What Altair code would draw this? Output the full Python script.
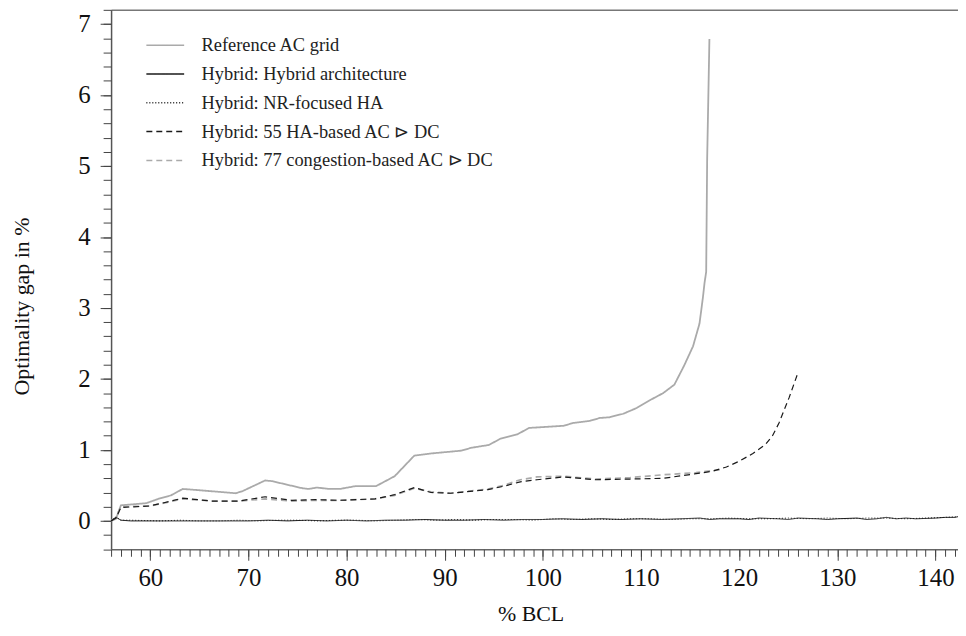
import altair as alt
import pandas as pd

series_names = [
    "Reference AC grid",
    "Hybrid: Hybrid architecture",
    "Hybrid: NR-focused HA",
    "Hybrid: 55 HA-based AC ⊳ DC",
    "Hybrid: 77 congestion-based AC ⊳ DC",
]
series_colors = ["#aaaaaa", "#1a1a1a", "#1a1a1a", "#1a1a1a", "#aaaaaa"]
series_dashes = [[1, 0], [1, 0], [1, 2], [6, 4], [6, 4]]

ref_x = [56, 56.5, 57, 59.6, 60.8, 62.1, 63.3, 64.3, 68.7, 69.4, 71.7, 72.4, 75.5, 76.1, 77, 78.2,
         79.3, 80.9, 83.0, 84.9, 86.9, 88.6, 91.7, 92.7, 94.5, 95.7, 97.4, 98.6, 102.1, 103.1,
         104.8, 105.8, 106.8, 108.2, 109.55, 110.9, 112.25, 113.4, 114.4, 115.3, 115.96, 116.3,
         116.47, 116.64, 116.74, 116.97]
ref_y = [0.0, 0.03, 0.22, 0.25, 0.31, 0.36, 0.45, 0.44, 0.39, 0.42, 0.57, 0.56, 0.46, 0.45, 0.47, 0.45,
         0.45, 0.49, 0.49, 0.63, 0.92, 0.95, 0.99, 1.03, 1.07, 1.16, 1.22, 1.31, 1.34, 1.38,
         1.41, 1.45, 1.46, 1.51, 1.59, 1.70, 1.80, 1.92, 2.19, 2.46, 2.78, 3.14,
         3.35, 3.51, 5.1, 6.79]

hyb_x = [56, 56.5, 57, 58, 60, 62, 64, 66, 68, 70, 72, 74, 76, 78, 80, 82, 84, 86, 88, 90, 92, 94,
         96, 98, 100, 102, 104, 106, 108, 110, 112, 114, 116, 117, 118, 120, 121, 122, 124, 125,
         126, 128, 129, 130, 132, 133, 134, 135, 136, 137, 138, 140, 141, 142, 142.3]
hyb_y = [0.0, 0.05, 0.01, 0.0, 0.0, 0.0, 0.0, 0.0, 0.0, 0.0, 0.01, 0.0, 0.01, 0.0, 0.01, 0.0, 0.01,
         0.01, 0.02, 0.01, 0.01, 0.02, 0.01, 0.02, 0.02, 0.03, 0.02, 0.03, 0.02, 0.03, 0.02, 0.03,
         0.04, 0.02, 0.03, 0.03, 0.02, 0.04, 0.03, 0.02, 0.04, 0.03, 0.02, 0.03, 0.04, 0.02, 0.03,
         0.05, 0.03, 0.04, 0.03, 0.04, 0.05, 0.05, 0.06]

nr_x = [56, 56.5, 57, 58, 61, 63, 65, 67, 69, 71, 73, 75, 77, 79, 81, 83, 85, 87, 89, 91, 93, 95,
        97, 99, 101, 103, 105, 107, 109, 111, 113, 115, 117, 119, 121, 123, 125, 127, 129, 131,
        133, 135, 137, 139, 141, 142.3]
nr_y = [0.0, 0.06, 0.01, 0.01, 0.0, 0.01, 0.0, 0.0, 0.01, 0.0, 0.01, 0.01, 0.0, 0.01, 0.01, 0.0,
        0.01, 0.02, 0.01, 0.02, 0.01, 0.02, 0.02, 0.01, 0.03, 0.02, 0.03, 0.02, 0.03, 0.03, 0.02,
        0.03, 0.03, 0.04, 0.03, 0.03, 0.04, 0.03, 0.04, 0.03, 0.04, 0.04, 0.03, 0.04, 0.05, 0.06]

ha55_x = [56, 56.5, 57, 59.9, 61.5, 63.3, 66.3, 69, 71.7, 74.4, 76.8, 79.2, 82.9, 84.9, 86.9, 88.6,
          90.6, 94.4, 96.05, 97.7, 99.4, 102.1, 105.4, 108.9, 112.25, 115.6, 117.3, 118.7, 120,
          121.4, 122.7, 123.4, 124.06, 125.1, 126]
ha55_y = [0.0, 0.04, 0.19, 0.21, 0.26, 0.32, 0.28, 0.28, 0.34, 0.29, 0.30, 0.29, 0.31, 0.37, 0.47,
          0.40, 0.39, 0.44, 0.49, 0.55, 0.58, 0.62, 0.58, 0.59, 0.60, 0.665, 0.70, 0.76, 0.84,
          0.95, 1.08, 1.20, 1.38, 1.74, 2.09]

cg77_x = [56, 56.5, 57, 60, 63.3, 66.3, 69, 71.7, 74.4, 76.8, 79.2, 82.9, 84.9, 86.9, 88.6, 90.6,
          94.4, 96, 97.7, 99.4, 102, 105.4, 108.9, 112.25, 115.6, 118]
cg77_y = [0.0, 0.05, 0.2, 0.21, 0.31, 0.28, 0.28, 0.31, 0.28, 0.29, 0.29, 0.31, 0.36, 0.46, 0.41,
          0.39, 0.45, 0.5, 0.58, 0.62, 0.63, 0.59, 0.61, 0.65, 0.68, 0.72]

x_major = [60, 70, 80, 90, 100, 110, 120, 130, 140]
x_minor = list(range(56, 143))
y_major = [0, 1, 2, 3, 4, 5, 6, 7]
y_minor = [round(-0.4 + 0.2 * i, 1) for i in range(39)]

X_DOM = [56, 142.3]
Y_DOM = [-0.4, 7.2]
SERIF = "Liberation Serif"

xs = alt.Scale(domain=X_DOM, nice=False, zero=False)
ys = alt.Scale(domain=Y_DOM, nice=False, zero=False)

legend = alt.Legend(
    title=None, orient="none", legendX=44, legendY=25, padding=0,
    symbolType="M-2,0H2", symbolSize=361, symbolStrokeWidth=1.5,
    labelFont=SERIF, labelFontSize=18.5, labelColor="#222", labelOffset=26,
    rowPadding=9, labelLimit=500,
)
color_enc = alt.Color("series:N", scale=alt.Scale(domain=series_names, range=series_colors), legend=legend)
dash_enc = alt.StrokeDash("series:N", scale=alt.Scale(domain=series_names, range=series_dashes), legend=legend)

def frame(name, x, y):
    return pd.DataFrame({"bcl": x, "gap": y, "series": name})

draw_order = [
    (0, ref_x, ref_y, 1.8),
    (4, cg77_x, cg77_y, 1.7),
    (3, ha55_x, ha55_y, 1.2),
    (2, nr_x, nr_y, 1.0),
    (1, hyb_x, hyb_y, 1.0),
]

layers = []
for idx, x, y, sw in draw_order:
    layers.append(
        alt.Chart(frame(series_names[idx], x, y)).mark_line(strokeWidth=sw, clip=True).encode(
            x=alt.X("bcl:Q", scale=xs, axis=None),
            y=alt.Y("gap:Q", scale=ys, axis=None),
            color=color_enc,
            strokeDash=dash_enc,
        )
    )

anchor = pd.DataFrame({"bcl": [60], "gap": [0]})

major_axes = alt.Chart(anchor).mark_point(opacity=0).encode(
    x=alt.X("bcl:Q", scale=xs, axis=alt.Axis(
        orient="bottom", values=x_major, tickSize=11, tickColor="#444", tickWidth=1,
        domainColor="#666", domainWidth=1.5, grid=False,
        labelFont=SERIF, labelFontSize=25, labelColor="#111", labelPadding=5,
        title="% BCL", titleFont=SERIF, titleFontSize=22, titleFontWeight="normal",
        titleColor="#111", titleX=422, titleY=65, titleBaseline="middle")),
    y=alt.Y("gap:Q", scale=ys, axis=alt.Axis(
        orient="left", values=y_major, tickSize=11, tickColor="#444", tickWidth=1,
        domainColor="#555", domainWidth=1.5, grid=False,
        labelFont=SERIF, labelFontSize=25, labelColor="#111", labelPadding=10,
        title="Optimality gap in %", titleFont=SERIF, titleFontSize=22, titleFontWeight="normal",
        titleColor="#111", titleX=-90, titleY=298, titleAngle=270, titleBaseline="middle",
        titleAlign="center")),
)

minor_axes = alt.Chart(anchor).mark_point(opacity=0).encode(
    x=alt.X("bcl:Q", scale=xs, axis=alt.Axis(
        orient="bottom", values=x_minor, tickSize=7, tickColor="#444", tickWidth=1,
        domain=False, labels=False, grid=False, title=None)),
    y=alt.Y("gap:Q", scale=ys, axis=alt.Axis(
        orient="left", values=y_minor, tickSize=8, tickColor="#444", tickWidth=1,
        domain=False, labels=False, grid=False, title=None)),
)

top_axis = alt.Chart(anchor).mark_point(opacity=0).encode(
    x=alt.X("bcl:Q", scale=xs, axis=alt.Axis(
        orient="top", ticks=False, labels=False, grid=False, title=None,
        domainColor="#777", domainWidth=1.5)),
)

chart = alt.layer(*layers, major_axes, minor_axes, top_axis).resolve_axis(
    x="independent", y="independent"
).properties(
    width=852, height=542.7,
    autosize=alt.AutoSizeParams(type="none"),
    padding={"left": 103.7, "top": 0, "right": 0, "bottom": 77},
).configure_view(stroke=None)

chart.save("out.html", embed_options={"renderer": "svg", "actions": False})
